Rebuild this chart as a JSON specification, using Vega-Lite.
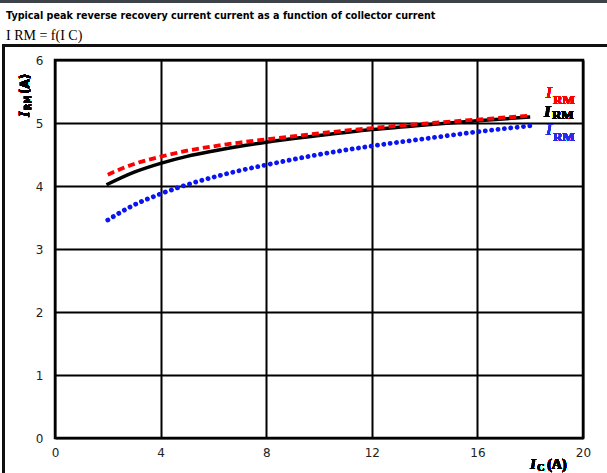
{
  "$schema": "https://vega.github.io/schema/vega-lite/v6.json",
  "width": 528,
  "height": 378,
  "autosize": {"type": "none"},
  "padding": {"left": 55, "top": 60, "right": 24, "bottom": 35},
  "background": "white",
  "title": {
    "text": "Typical peak reverse recovery current current as a function of collector current",
    "subtitle": "I RM = f(I C)",
    "anchor": "start",
    "frame": "group",
    "dx": -49,
    "offset": -43,
    "font": "DejaVu Sans",
    "fontSize": 9.6,
    "fontWeight": "bold",
    "color": "#000",
    "subtitleFont": "Liberation Serif",
    "subtitleFontSize": 14,
    "subtitleColor": "#000",
    "subtitlePadding": 8
  },
  "config": {
    "view": {"stroke": "#000", "strokeWidth": 2.5},
    "axis": {
      "grid": true,
      "gridColor": "#000",
      "gridWidth": 2,
      "gridOpacity": 1,
      "domain": false,
      "ticks": false,
      "labelFont": "DejaVu Sans",
      "labelFontSize": 12,
      "labelColor": "#222",
      "labelFlush": false,
      "labelOverlap": false,
      "title": null
    }
  },
  "datasets": {
    "curves": [
      {"s": "black", "ic": 1.95, "irm": 4.02},
      {"s": "black", "ic": 3, "irm": 4.22},
      {"s": "black", "ic": 4, "irm": 4.36},
      {"s": "black", "ic": 5, "irm": 4.47},
      {"s": "black", "ic": 6, "irm": 4.555},
      {"s": "black", "ic": 7, "irm": 4.63},
      {"s": "black", "ic": 8, "irm": 4.695},
      {"s": "black", "ic": 10, "irm": 4.80},
      {"s": "black", "ic": 12, "irm": 4.895},
      {"s": "black", "ic": 14, "irm": 4.97},
      {"s": "black", "ic": 16, "irm": 5.035},
      {"s": "black", "ic": 18, "irm": 5.095},
      {"s": "red", "ic": 2, "irm": 4.18},
      {"s": "red", "ic": 3, "irm": 4.35},
      {"s": "red", "ic": 4, "irm": 4.465},
      {"s": "red", "ic": 5, "irm": 4.56},
      {"s": "red", "ic": 6, "irm": 4.63},
      {"s": "red", "ic": 7, "irm": 4.69},
      {"s": "red", "ic": 8, "irm": 4.74},
      {"s": "red", "ic": 10, "irm": 4.835},
      {"s": "red", "ic": 12, "irm": 4.92},
      {"s": "red", "ic": 14, "irm": 4.99},
      {"s": "red", "ic": 16, "irm": 5.055},
      {"s": "red", "ic": 18, "irm": 5.115},
      {"s": "blue", "ic": 2, "irm": 3.46},
      {"s": "blue", "ic": 3, "irm": 3.70},
      {"s": "blue", "ic": 4, "irm": 3.875},
      {"s": "blue", "ic": 5, "irm": 4.02},
      {"s": "blue", "ic": 6, "irm": 4.14},
      {"s": "blue", "ic": 7, "irm": 4.245},
      {"s": "blue", "ic": 8, "irm": 4.335},
      {"s": "blue", "ic": 10, "irm": 4.50},
      {"s": "blue", "ic": 12, "irm": 4.635},
      {"s": "blue", "ic": 14, "irm": 4.75},
      {"s": "blue", "ic": 16, "irm": 4.86},
      {"s": "blue", "ic": 18, "irm": 4.955}
    ]
  },
  "data": {"name": "curves"},
  "encoding": {
    "x": {"field": "ic", "type": "quantitative", "scale": {"domain": [0, 20], "nice": false}, "axis": {"values": [0, 4, 8, 12, 16, 20], "labelPadding": 9}},
    "y": {"field": "irm", "type": "quantitative", "scale": {"domain": [0, 6], "nice": false}, "axis": {"values": [0, 1, 2, 3, 4, 5, 6], "labelPadding": 12}}
  },
  "layer": [
    {
      "mark": {"type": "rect", "fill": "#3d4249", "clip": false},
      "encoding": {
        "x": {"datum": -2.3}, "x2": {"datum": 21.5},
        "y": {"datum": 6.905}, "y2": {"datum": 6.955}
      }
    },
    {
      "mark": {"type": "rect", "fill": null, "fillOpacity": 0, "stroke": "#111", "strokeWidth": 1.5, "clip": false},
      "encoding": {
        "x": {"datum": -1.95}, "x2": {"datum": 21.5},
        "y": {"datum": -0.8}, "y2": {"datum": 6.23}
      }
    },
    {
      "transform": [{"filter": "datum.s == 'blue'"}],
      "mark": {"type": "line", "color": "#0a14f0", "strokeWidth": 4.8, "strokeDash": [0.1, 6.3], "strokeCap": "round", "interpolate": "monotone"}
    },
    {
      "transform": [{"filter": "datum.s == 'black'"}],
      "mark": {"type": "line", "color": "#000", "strokeWidth": 3.5, "interpolate": "monotone"}
    },
    {
      "transform": [{"filter": "datum.s == 'red'"}],
      "mark": {"type": "line", "color": "#f00", "strokeWidth": 3.8, "strokeDash": [7, 4], "interpolate": "monotone"}
    },
    {
      "mark": {"type": "text", "text": "I", "font": "Liberation Serif", "fontStyle": "italic", "fontSize": 17, "color": "#f00", "align": "left", "baseline": "alphabetic"},
      "encoding": {"x": {"datum": 18.6}, "y": {"datum": 5.397}}
    },
    {
      "mark": {"type": "text", "text": "RM", "font": "Liberation Serif", "fontWeight": "bold", "fontSize": 13, "color": "#f00", "align": "left", "baseline": "alphabetic", "dx": 7, "dy": 6},
      "encoding": {"x": {"datum": 18.6}, "y": {"datum": 5.397}}
    },
    {
      "mark": {"type": "text", "text": "I", "font": "Liberation Serif", "fontStyle": "italic", "fontWeight": "bold", "fontSize": 17, "color": "#000", "align": "left", "baseline": "alphabetic"},
      "encoding": {"x": {"datum": 18.52}, "y": {"datum": 5.095}}
    },
    {
      "mark": {"type": "text", "text": "RM", "font": "Liberation Serif", "fontWeight": "bold", "fontSize": 13, "color": "#000", "align": "left", "baseline": "alphabetic", "dx": 8, "dy": 2},
      "encoding": {"x": {"datum": 18.52}, "y": {"datum": 5.095}}
    },
    {
      "mark": {"type": "text", "text": "I", "font": "Liberation Serif", "fontStyle": "italic", "fontSize": 17, "color": "#2a2ae8", "align": "left", "baseline": "alphabetic"},
      "encoding": {"x": {"datum": 18.6}, "y": {"datum": 4.81}}
    },
    {
      "mark": {"type": "text", "text": "RM", "font": "Liberation Serif", "fontWeight": "bold", "fontSize": 13, "color": "#2a2ae8", "align": "left", "baseline": "alphabetic", "dx": 7, "dy": 6},
      "encoding": {"x": {"datum": 18.6}, "y": {"datum": 4.81}}
    },
    {
      "mark": {"type": "text", "text": "I", "font": "Liberation Serif", "fontStyle": "italic", "fontWeight": "bold", "fontSize": 14, "color": "#000", "align": "left", "baseline": "alphabetic"},
      "encoding": {"x": {"datum": 18.0}, "y": {"datum": -0.49}}
    },
    {
      "mark": {"type": "text", "text": "C", "font": "Liberation Serif", "fontWeight": "bold", "fontSize": 10, "color": "#000", "align": "left", "baseline": "alphabetic", "dx": 7, "dy": 2},
      "encoding": {"x": {"datum": 18.0}, "y": {"datum": -0.49}}
    },
    {
      "mark": {"type": "text", "text": "(A)", "font": "Liberation Serif", "fontWeight": "bold", "fontSize": 14, "color": "#000", "align": "left", "baseline": "alphabetic", "dx": 17},
      "encoding": {"x": {"datum": 18.0}, "y": {"datum": -0.49}}
    },
    {
      "mark": {"type": "text", "text": "I", "font": "Liberation Serif", "fontStyle": "italic", "fontWeight": "bold", "fontSize": 14, "color": "#000", "align": "left", "baseline": "alphabetic", "angle": 270},
      "encoding": {"x": {"datum": -1.0}, "y": {"datum": 5.095}}
    },
    {
      "mark": {"type": "text", "text": "RM", "font": "DejaVu Sans", "fontWeight": "bold", "fontSize": 8, "color": "#000", "align": "left", "baseline": "alphabetic", "angle": 270, "dx": 7, "dy": 2},
      "encoding": {"x": {"datum": -1.0}, "y": {"datum": 5.095}}
    },
    {
      "mark": {"type": "text", "text": "(A)", "font": "DejaVu Sans", "fontWeight": "bold", "fontSize": 12, "color": "#000", "align": "left", "baseline": "alphabetic", "angle": 270, "dx": 23},
      "encoding": {"x": {"datum": -1.0}, "y": {"datum": 5.095}}
    }
  ]
}
